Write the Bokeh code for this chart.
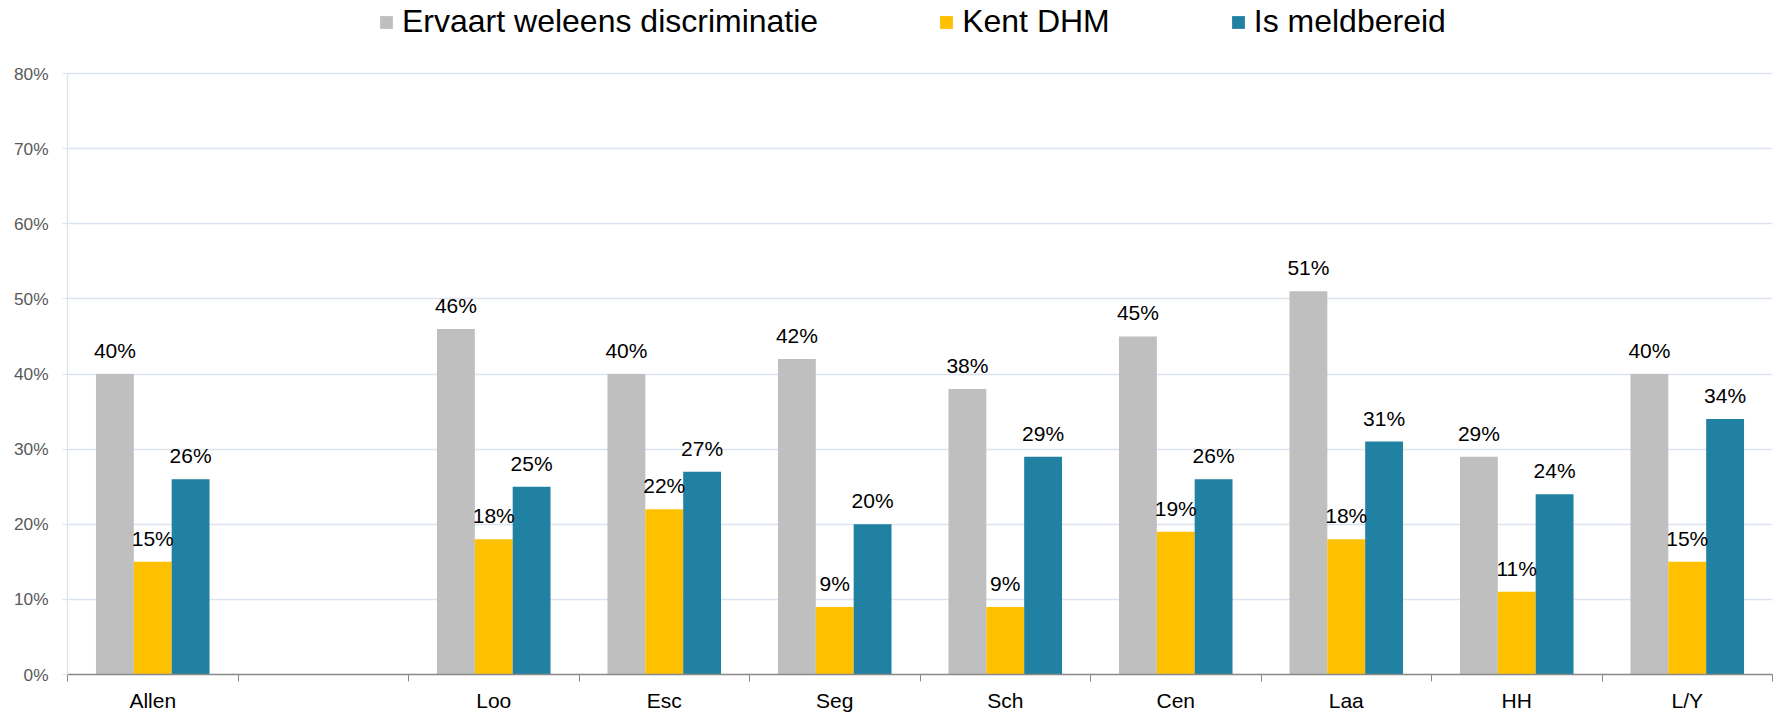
from bokeh.plotting import figure
from bokeh.models import (ColumnDataSource, FixedTicker, NumeralTickFormatter, Legend,
                          LegendItem, LabelSet, Range1d)
from bokeh.transform import dodge
from bokeh.core.properties import value
from bokeh.embed import file_html
from bokeh.resources import INLINE

categories = ["Allen", "", "Loo", "Esc", "Seg", "Sch", "Cen", "Laa", "HH", "L/Y"]
ervaart = [0.40, None, 0.46, 0.40, 0.42, 0.38, 0.45, 0.51, 0.29, 0.40]
kent = [0.15, None, 0.18, 0.22, 0.09, 0.09, 0.19, 0.18, 0.11, 0.15]
meld = [0.26, None, 0.25, 0.27, 0.20, 0.29, 0.26, 0.31, 0.24, 0.34]
series_names = ["Ervaart weleens discriminatie", "Kent DHM", "Is meldbereid"]
colors = ["#BFBFBF", "#FFC000", "#2181A2"]
y_ticks = [0.0, 0.1, 0.2, 0.3, 0.4, 0.5, 0.6, 0.7, 0.8]

FONT = "Liberation Sans"
idx = [i for i, v in enumerate(ervaart) if v is not None]
centers = [i + 0.5 for i in range(len(categories))]

def lab(v):
    return f"{round(v * 100)}%"

src = ColumnDataSource(dict(
    x=[centers[i] for i in idx],
    a=[ervaart[i] for i in idx], b=[kent[i] for i in idx], c=[meld[i] for i in idx],
    la=[lab(ervaart[i]) for i in idx], lb=[lab(kent[i]) for i in idx], lc=[lab(meld[i]) for i in idx],
))

# frame spans the full top area so the legend can live inside it; the axis
# and grid are limited to 0..80%
y_top = 0.8 * 674 / (674 - 73)
p = figure(width=1781, height=715, output_backend="svg", toolbar_location=None,
           x_range=Range1d(0, len(categories)), y_range=Range1d(0, y_top),
           min_border_left=67, min_border_right=9, min_border_top=0, min_border_bottom=41)
p.outline_line_color = None
p.xgrid.grid_line_color = None
p.ygrid.grid_line_color = "#DCE4F0"
p.ygrid.grid_line_width = 1.3

bw = 0.222
offs = [-bw, 0, bw]
cols = ["a", "b", "c"]
lcols = ["la", "lb", "lc"]
renderers = []
for col, lc, off, colr in zip(cols, lcols, offs, colors):
    r = p.vbar(x=dodge("x", off, range=p.x_range), top=col, width=bw, source=src,
               fill_color=colr, line_color=None)
    renderers.append(r)
    ls = LabelSet(x=dodge("x", off, range=p.x_range), y=col, text=lc, source=src,
                  text_align="center", text_baseline="alphabetic", y_offset=16,
                  text_font=value(FONT), text_font_size="21px", text_color="#000000")
    p.add_layout(ls)

# x axis
xa = p.xaxis[0]
xa.ticker = FixedTicker(ticks=centers, minor_ticks=list(range(len(categories) + 1)))
xa.major_label_overrides = {c: n for c, n in zip(centers, categories)}
xa.major_tick_line_color = None
xa.major_tick_out = 7
xa.major_tick_in = 0
xa.minor_tick_line_color = "#898989"
xa.minor_tick_out = 7
xa.minor_tick_in = 0
xa.axis_line_color = "#898989"
xa.axis_line_width = 1.3
xa.major_label_standoff = 7
xa.major_label_text_font = FONT
xa.major_label_text_font_size = "21px"
xa.major_label_text_color = "#000000"

# y axis
ya = p.yaxis[0]
ya.ticker = FixedTicker(ticks=y_ticks)
ya.bounds = (0, 0.8)
ya.formatter = NumeralTickFormatter(format="0%")
ya.axis_line_color = "#DCE4F0"
ya.axis_line_width = 1.3
ya.major_tick_line_color = "#DCE4F0"
ya.major_tick_out = 5
ya.major_tick_in = 0
ya.minor_tick_line_color = None
ya.major_label_standoff = 14
ya.major_label_text_font = FONT
ya.major_label_text_font_size = "17.3px"
ya.major_label_text_color = "#595959"

legend = Legend(items=[LegendItem(label=n, renderers=[r]) for n, r in zip(series_names, renderers)],
                orientation="horizontal", location=(311, 634),
                glyph_width=16, glyph_height=16, label_standoff=8, spacing=120,
                padding=0, margin=0, border_line_color=None, background_fill_alpha=0,
                label_text_font=FONT, label_text_font_size="32px", label_text_color="#000000")
p.add_layout(legend, "center")

open("out.html", "w").write(file_html(p, INLINE))
